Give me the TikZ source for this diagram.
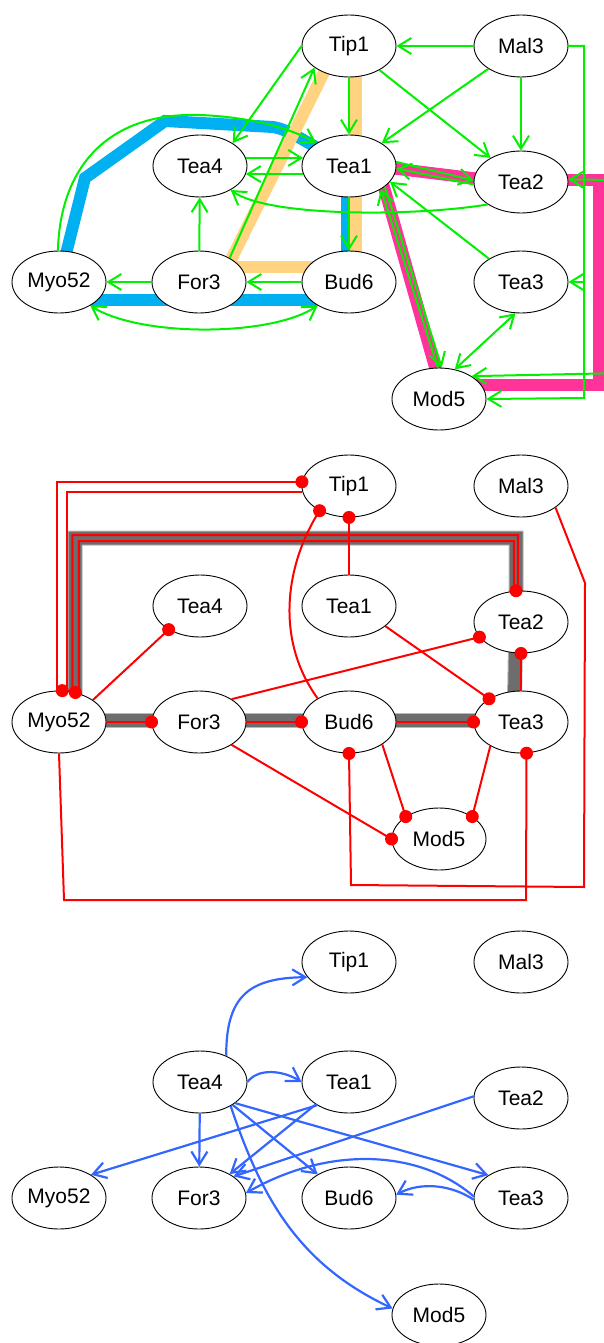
\documentclass[tikz,border=0pt]{standalone}
\usepackage{fontspec}
\setmainfont{Liberation Sans}
\usetikzlibrary{arrows.meta,backgrounds,shapes.geometric}
\definecolor{ggreen}{RGB}{0,240,0}
\definecolor{rred}{RGB}{255,0,0}
\definecolor{bblue}{RGB}{51,102,255}
\definecolor{cyanb}{RGB}{0,176,240}
\definecolor{orangeb}{RGB}{255,211,128}
\definecolor{pinkb}{RGB}{255,51,153}
\definecolor{greyb}{RGB}{110,108,108}
\definecolor{greyl}{RGB}{185,185,185}
\begin{document}
\begin{tikzpicture}[x=1pt,y=-1pt,
  >={Straight Barb[length=13pt,width=16pt]},
  ell/.style={ellipse, draw=black, line width=0.9pt, fill=white, minimum width=94pt, minimum height=62pt, inner sep=0pt, font=\fontsize{21}{25}\selectfont},
  gedge/.style={draw=ggreen, line width=2pt, ->},
  redge/.style={draw=rred, line width=2pt},
  bedge/.style={draw=bblue, line width=2.2pt, ->},
  cyanband/.style={draw=cyanb, line width=12pt},
  orangeband/.style={draw=orangeb, line width=12pt},
  pinkband/.style={draw=pinkb, line width=12pt},
  greyband/.style={draw=greyb, line width=13pt},
  greyedge/.style={draw=greyl, line width=15pt},
  rdot/.style={fill=rred}
]
\useasboundingbox (0,0) rectangle (604,1343);
\clip (0,0) rectangle (604,1343);

% ---------------- panel 1 nodes ----------------
\node[ell] (p1tip1)  at (349,46)  {Tip1};
\node[ell] (p1mal3)  at (521,46)  {Mal3};
\node[ell] (p1tea4)  at (200,166) {Tea4};
\node[ell] (p1tea1)  at (349,166) {Tea1};
\node[ell] (p1tea2)  at (521,182) {Tea2};
\node[ell] (p1myo52) at (59,282)  {Myo52};
\node[ell] (p1for3)  at (199,282) {For3};
\node[ell] (p1bud6)  at (349,282) {Bud6};
\node[ell] (p1tea3)  at (521,282) {Tea3};
\node[ell] (p1mod5)  at (439,399) {Mod5};

% ---------------- panel 2 nodes ----------------
\node[ell] (p2tip1)  at (349,486) {Tip1};
\node[ell] (p2mal3)  at (521,486) {Mal3};
\node[ell] (p2tea4)  at (200,606) {Tea4};
\node[ell] (p2tea1)  at (349,606) {Tea1};
\node[ell] (p2tea2)  at (521,622) {Tea2};
\node[ell] (p2myo52) at (59,722)  {Myo52};
\node[ell] (p2for3)  at (199,722) {For3};
\node[ell] (p2bud6)  at (349,722) {Bud6};
\node[ell] (p2tea3)  at (521,722) {Tea3};
\node[ell] (p2mod5)  at (439,839) {Mod5};

% ---------------- panel 3 nodes ----------------
\node[ell] (p3tip1)  at (349,962)  {Tip1};
\node[ell] (p3mal3)  at (521,962)  {Mal3};
\node[ell] (p3tea4)  at (200,1082) {Tea4};
\node[ell] (p3tea1)  at (349,1082) {Tea1};
\node[ell] (p3tea2)  at (521,1098) {Tea2};
\node[ell] (p3myo52) at (59,1198)  {Myo52};
\node[ell] (p3for3)  at (199,1198) {For3};
\node[ell] (p3bud6)  at (349,1198) {Bud6};
\node[ell] (p3tea3)  at (521,1198) {Tea3};
\node[ell] (p3mod5)  at (439,1315) {Mod5};

% ---------------- bands (background) ----------------
\begin{scope}[on background layer]
  % cyan cycle
  \draw[cyanband] (p1myo52.center) -- (85,178) -- (165,121) -- (273,127) .. controls (290,130) and (302,140) .. (p1tea1.center);
  \draw[cyanband] ([xshift=-2pt]p1tea1.center) -- ([xshift=-2pt]p1bud6.center);
  \draw[cyanband] ([yshift=-18pt]p1bud6.center) -- ([yshift=-18pt]p1myo52.center);
  % orange cycle
  \draw[orangeband] ([xshift=7pt]p1tip1.center) -- ([xshift=7pt]p1bud6.center);
  \draw[orangeband] ([yshift=15pt]p1bud6.center) -- ([yshift=15pt]p1for3.center);
  \draw[orangeband] ([xshift=21pt]p1for3.center) -- ([xshift=-12pt]p1tip1.center);
  % pink cycle
  \draw[pinkband] ([yshift=3pt]p1tea1.center) -- ([yshift=-2pt]p1tea2.center);
  \draw[pinkband] ([yshift=2pt]p1tea2.center) -- (599,180) -- (599,385) -- ([yshift=14pt]p1mod5.center);
  \draw[pinkband] ([xshift=29pt]p1tea1.center) -- ([xshift=5pt]p1mod5.center);
  % grey cycle
  \draw[greyedge] ([xshift=16pt]p2myo52.center) |- (516,538) -- ([xshift=-5pt]p2tea2.center) -- ([xshift=-7pt]p2tea3.center);
  \draw[greyedge] ([yshift=2pt]p2tea3.center) -- ([yshift=2pt]p2myo52.center);
  \draw[greyband] ([xshift=16pt]p2myo52.center) |- (516,538) -- ([xshift=-5pt]p2tea2.center) -- ([xshift=-7pt]p2tea3.center);
  \draw[greyband] ([yshift=2pt]p2tea3.center) -- ([yshift=2pt]p2myo52.center);
\end{scope}

% ---------------- panel 1 green edges ----------------
\draw[gedge] (p1mal3) -- (p1tip1);
\draw[gedge] (p1mal3) -- (p1tea1);
\draw[gedge] (p1mal3) -- (p1tea2);
\draw[gedge] (p1tip1) -- (p1tea2);
\draw[gedge] (p1tip1) -- (p1tea1);
\draw[gedge] (p1tip1.180) -- (p1tea4.35);
\draw[gedge] (p1for3.38) -- (p1tip1.212);
\draw[gedge] (p1tea4.10) -- (p1tea1.170);
\draw[gedge] (p1tea1.190) -- (p1tea4.-10);
\draw[gedge] (p1tea2.214) .. controls (420,216) and (270,218) .. (p1tea4.322);
\draw[gedge] (p1tea1.5) -- (p1tea2.178);
\draw[gedge] (p1tea2.183) -- (p1tea1.-3);
\draw[gedge] (p1tea1.-30) -- (p1mod5.85);
\draw[gedge] (p1mod5.92) -- (p1tea1.-36);
\draw[gedge] (p1tea3.144) -- (p1tea1.-21);
\draw[gedge] (p1tea1) -- (p1bud6);
\draw[gedge] (p1bud6) -- (p1for3);
\draw[gedge] (p1for3) -- (p1myo52);
\draw[gedge] (p1for3) -- (p1tea4);
\draw[gedge,<->] (p1myo52.-37) .. controls (140,337) and (270,337) .. (p1bud6.217);
\draw[gedge,<->] (p1mod5.62) -- (p1tea3.-100);
\draw[gedge] (p1myo52.92) .. controls (60,170) and (105,112) .. (200,115) .. controls (250,117) and (290,128) .. (p1tea1.145);
\draw[gedge] (p1mal3.east) -| (584,282) -- (p1tea3.east);
\draw[gedge] (p1mal3.east) -| (584,398) -- (p1mod5.east);
\draw[gedge,<->] (p1mod5.35) -- (625,373) -- (625,180) -- (p1tea2.3);

% ---------------- panel 2 red edges ----------------
\draw[redge] (p2tip1.175) -| (p2myo52.93);
\draw[redge] (p2tip1.187) -| (p2myo52.76);
\draw[redge] (p2myo52.66) |- (518,535) -- (p2tea2.96);
\draw[redge] (p2myo52.55) |- (514,541) -- (p2tea2.103);
\draw[redge] (p2tip1) -- (p2tea1);
\draw[redge] (p2tip1.220) .. controls (285,565) and (275,640) .. (p2bud6.143);
\draw[redge] (p2tea4.217) -- (p2myo52.33);
\draw[redge] (p2tea1.-29) -- (p2tea3.144);
\draw[redge] (p2tea2.200) -- (p2for3.35);
\draw[redge] (p2tea2.south) -- (p2tea3.north);
\draw[redge] (p2myo52) -- (p2for3);
\draw[redge] (p2for3) -- (p2bud6);
\draw[redge] (p2bud6) -- (p2tea3);
\draw[redge] (p2for3.-35) -- (p2mod5.180);
\draw[redge] (p2bud6.-34) -- (p2mod5.146);
\draw[redge] (p2tea3.218) -- (p2mod5.34);
\draw[redge] (p2bud6.south) -- (351,885) -- (584,887) -- (585,583) -- (p2mal3.-32);
\draw[redge] (p2tea3.-80) -- (526,900) -- (64,900) -- (p2myo52.south);
% dots
\fill[rdot] (p2tip1.175) circle[radius=6.5pt];
\fill[rdot] (p2myo52.84) circle[radius=6.5pt];
\fill[rdot] (p2myo52.61) circle[radius=6.5pt];
\fill[rdot] (p2tea2.99) circle[radius=6.5pt];
\fill[rdot] (p2tip1.south) circle[radius=6.5pt];
\fill[rdot] (p2tip1.220) circle[radius=6.5pt];
\fill[rdot] (p2tea4.217) circle[radius=6.5pt];
\fill[rdot] (p2tea3.144) circle[radius=6.5pt];
\fill[rdot] (p2tea2.200) circle[radius=6.5pt];
\fill[rdot] (p2tea2.south) circle[radius=6.5pt];
\fill[rdot] (p2for3.west) circle[radius=6.5pt];
\fill[rdot] (p2bud6.west) circle[radius=6.5pt];
\fill[rdot] (p2tea3.west) circle[radius=6.5pt];
\fill[rdot] (p2mod5.180) circle[radius=6.5pt];
\fill[rdot] (p2mod5.146) circle[radius=6.5pt];
\fill[rdot] (p2mod5.34) circle[radius=6.5pt];
\fill[rdot] (p2bud6.south) circle[radius=6.5pt];
\fill[rdot] (p2tea3.-80) circle[radius=6.5pt];

% ---------------- panel 3 blue edges ----------------
\draw[bedge] (p3tea4.45) .. controls (226,995) and (250,978) .. (p3tip1.200);
\draw[bedge] (p3tea4.east) .. controls (258,1068) and (282,1070) .. (p3tea1.west);
\draw[bedge] (p3tea4) -- (p3for3);
\draw[bedge] (p3tea4.-35) -- (p3bud6.143);
\draw[bedge] (p3tea4.-31) -- (p3tea3.145);
\draw[bedge] (p3tea4.-38) .. controls (262,1200) and (300,1265) .. (p3mod5.172);
\draw[bedge] (p3tea1.214) -- (p3for3.38);
\draw[bedge] (p3tea1.216) -- (p3myo52.36);
\draw[bedge] (p3tea2.178) -- (p3for3.32);
\draw[bedge] (p3tea3.178) .. controls (420,1150) and (330,1145) .. (p3for3.6);
\draw[bedge] (p3tea3.182) .. controls (450,1184) and (420,1182) .. (p3bud6.4);
\end{tikzpicture}
\end{document}
